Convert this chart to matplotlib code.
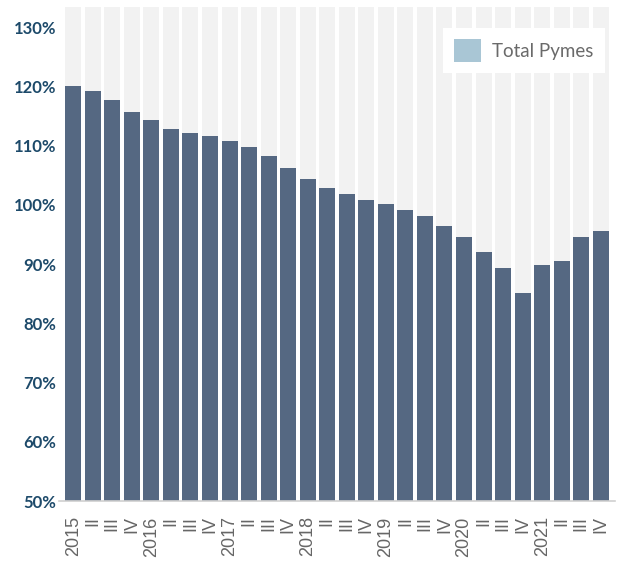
import matplotlib
matplotlib.use("Agg")
import matplotlib.pyplot as plt
from matplotlib.patches import Patch

quarters = ["2015", "II", "III", "IV",
            "2016", "II", "III", "IV",
            "2017", "II", "III", "IV",
            "2018", "II", "III", "IV",
            "2019", "II", "III", "IV",
            "2020", "II", "III", "IV",
            "2021", "II", "III", "IV"]
total_pymes = [120.0, 119.2, 117.7, 115.7,
               114.3, 112.8, 112.1, 111.6,
               110.7, 109.7, 108.2, 106.2,
               104.3, 102.8, 101.8, 100.8,
               100.1, 99.1, 98.1, 96.4,
               94.5, 92.1, 89.3, 85.2,
               89.8, 90.6, 94.5, 95.5]
y_ticks = [50, 60, 70, 80, 90, 100, 110, 120, 130]
series_name = "Total Pymes"

Y_MIN, Y_MAX = 50, 133.4

fig = plt.figure(figsize=(6.22, 5.62), dpi=100)
ax = fig.add_axes([59/622, 1-501/562, (615-59)/622, (501-7)/562])

x = list(range(len(quarters)))
ax.bar(x, [Y_MAX - Y_MIN]*len(x), bottom=Y_MIN, width=0.82, color="#f2f2f2", zorder=1)
ax.bar(x, [v - Y_MIN for v in total_pymes], bottom=Y_MIN, width=0.82, color="#556882", zorder=2)

ax.set_ylim(Y_MIN, Y_MAX)
ax.set_xlim(-0.73, len(x) - 0.27)

ax.set_yticks(y_ticks)
ax.set_yticklabels([f"{t}%" for t in y_ticks], fontfamily="Lato", fontweight="bold",
                   fontsize=12, color="#1d4a6a")
ax.tick_params(axis="y", length=0, pad=2)

ax.set_xticks(x)
ax.set_xticklabels(quarters, rotation=90, fontfamily="Liberation Sans", fontsize=13,
                   color="#666666", va="top", ha="center")
ax.tick_params(axis="x", length=0, pad=11)

for s in ["top", "right", "left"]:
    ax.spines[s].set_visible(False)
ax.spines["bottom"].set_color("#d0d0d0")
ax.spines["bottom"].set_linewidth(1.2)
ax.spines["bottom"].set_zorder(3)

handle = Patch(facecolor="#a9c6d5", edgecolor="none")
leg = ax.legend([handle], [series_name], loc="upper right",
                bbox_to_anchor=((605-59)/556, (501-28)/494),
                frameon=True, fancybox=False, framealpha=1,
                facecolor="white", edgecolor="none",
                prop={"family": "Lato", "weight": "normal", "size": 13.5},
                handlelength=1.45, handleheight=1.45, handletextpad=0.6,
                borderpad=0.6, borderaxespad=0)
for t in leg.get_texts():
    t.set_color("#6a6a6a")
leg.set_zorder(5)

fig.savefig("out.png", dpi=100)
